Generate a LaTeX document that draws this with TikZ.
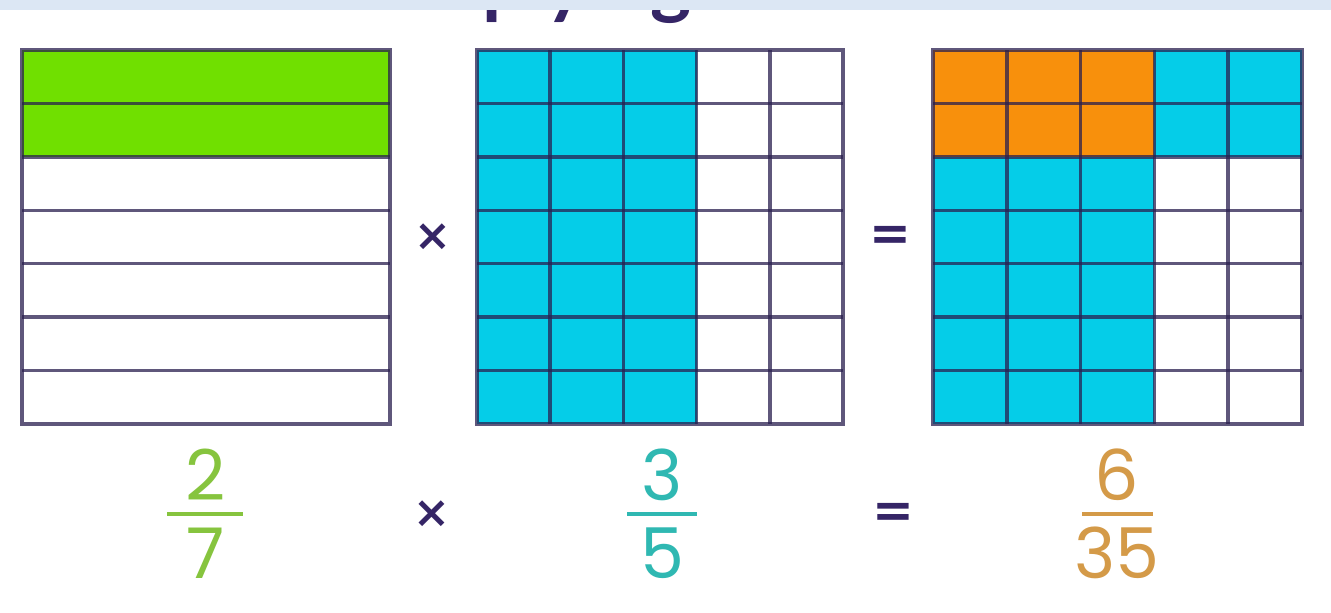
\documentclass[tikz,border=0pt]{standalone}
\usepackage{fontspec}
\setmainfont{Poppins}
\newfontfamily\titlefont{Lato}
\newfontfamily\symfont{DejaVu Sans}
\definecolor{linec}{HTML}{2A2050}
\definecolor{greenc}{HTML}{70E000}
\definecolor{cyanc}{HTML}{05CDE8}
\definecolor{orangec}{HTML}{F8900C}
\definecolor{bandc}{HTML}{DCE7F4}
\definecolor{symc}{HTML}{352566}
\definecolor{fgreen}{HTML}{86C43E}
\definecolor{fteal}{HTML}{2FB8B2}
\definecolor{ftan}{HTML}{D49A48}
\begin{document}
\begin{tikzpicture}[x=1pt,y=-1pt,
  gridline/.style={draw=linec, draw opacity=0.75, line width=3.5pt},
  digit/.style={inner sep=0pt, anchor=base, font=\fontsize{70}{70}\selectfont},
  fracbar/.style={line width=4pt},
  opsym/.style={inner sep=0pt, text=symc, font=\symfont\bfseries\fontsize{44}{44}\selectfont},
  eqsym/.style={inner sep=0pt, text=symc, font=\symfont\bfseries\fontsize{50}{50}\selectfont},
  titletext/.style={inner sep=0pt, anchor=base east, text=symc, font=\titlefont\bfseries\fontsize{78}{78}\selectfont}]
\useasboundingbox (0,0) rectangle (1331,613);
\clip (0,0) rectangle (1331,613);
\fill[white] (0,0) rectangle (1331,613);
% title (cut off at the top, as in the reference)
\node[titletext] (title) at (692,9.5) {Multiplying};
\fill[bandc] (0,0) rectangle (1331,10);
% ---------- left box: 2/7 ----------
\fill[greenc] (22,50) rectangle (390,156.86);
\foreach \k in {1,...,6} \draw[gridline] (22,50+\k*53.43) -- (390,50+\k*53.43);
\draw[gridline] (22,50) rectangle (390,424);
% ---------- middle box: 3/5 ----------
\fill[cyanc] (477,50) rectangle (696.6,424);
\foreach \k in {1,...,6} \draw[gridline] (477,50+\k*53.43) -- (843,50+\k*53.43);
\foreach \k in {1,...,4} \draw[gridline] (477+\k*73.2,50) -- (477+\k*73.2,424);
\draw[gridline] (477,50) rectangle (843,424);
% ---------- right box: 6/35 ----------
\fill[cyanc] (933,50) rectangle (1154.4,424);
\fill[cyanc] (933,50) rectangle (1302,156.86);
\fill[orangec] (933,50) rectangle (1154.4,156.86);
\foreach \k in {1,...,6} \draw[gridline] (933,50+\k*53.43) -- (1302,50+\k*53.43);
\foreach \k in {1,...,4} \draw[gridline] (933+\k*73.8,50) -- (933+\k*73.8,424);
\draw[gridline] (933,50) rectangle (1302,424);
% ---------- operators ----------
\node[opsym] (times1) at (433,237) {×};
\node[eqsym] (eq1) at (890,238) {=};
\node[opsym] (times2) at (432,514) {×};
\node[eqsym] (eq2) at (893,515) {=};
% ---------- fractions ----------
\node[digit, text=fgreen] (n1) at (206,500) {2};
\coordinate (b1l) at (167,514); \coordinate (b1r) at (243,514);
\draw[fracbar, fgreen] (b1l) -- (b1r);
\node[digit, text=fgreen] (d1) at (206,578) {7};
\node[digit, text=fteal] (n2) at (662,500) {3};
\coordinate (b2l) at (627,514); \coordinate (b2r) at (697,514);
\draw[fracbar, fteal] (b2l) -- (b2r);
\node[digit, text=fteal] (d2) at (662,578) {5};
\node[digit, text=ftan] (n3) at (1117,500) {6};
\coordinate (b3l) at (1082,514); \coordinate (b3r) at (1153,514);
\draw[fracbar, ftan] (b3l) -- (b3r);
\node[digit, text=ftan] (d3) at (1117,578) {35};
\end{tikzpicture}
\end{document}
